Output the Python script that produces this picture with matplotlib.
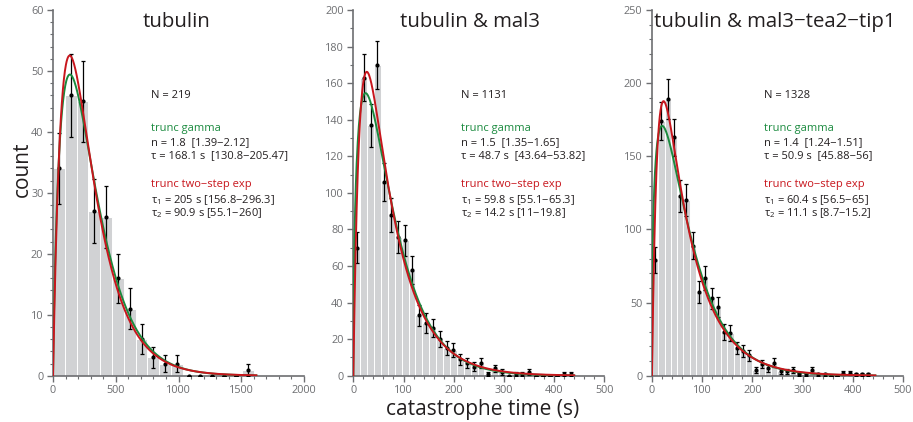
import math
import numpy as np
import matplotlib
matplotlib.use("Agg")
import matplotlib.pyplot as plt
from matplotlib.ticker import MultipleLocator

plt.rcParams['font.family'] = ['Open Sans', 'DejaVu Sans']
plt.rcParams['mathtext.fontset'] = 'custom'
plt.rcParams['mathtext.rm'] = 'Open Sans'
plt.rcParams['mathtext.it'] = 'Open Sans:italic'

# ---- data ----
titles = ["tubulin", "tubulin & mal3", "tubulin & mal3\u2212tea2\u2212tip1"]
n_events = [219, 1131, 1328]
bin_width = [94, 13.75, 12.5]

counts_tub = [34, 46, 45, 27, 26, 16, 11, 6, 3, 2, 2, 0, 0, 0, 0, 0, 1]
counts_mal3 = [70, 163, 137, 170, 106, 88, 76, 74, 58, 33, 29, 26, 20, 15, 14, 9,
               7, 5, 7, 1, 4, 2, 0, 1, 1, 2, 0, 0, 0, 0, 1, 1]
counts_tip1 = [79, 174, 189, 163, 123, 120, 89, 57, 67, 53, 47, 30, 29, 19, 17, 14,
               4, 8, 5, 9, 3, 3, 4, 1, 1, 4, 1, 1, 0, 0, 2, 2, 1, 1, 1]

# fit parameters printed in each panel
gamma_n = [1.8, 1.5, 1.4]
gamma_n_ci = ["1.39\u22122.12", "1.35\u22121.65", "1.24\u22121.51"]
gamma_tau = [168.1, 48.7, 50.9]
gamma_tau_ci = ["130.8\u2212205.47", "43.64\u221253.82", "45.88\u221256"]
exp_tau1 = [205, 59.8, 60.4]
exp_tau1_ci = ["156.8\u2212296.3", "55.1\u221265.3", "56.5\u221265"]
exp_tau2 = [90.9, 14.2, 11.1]
exp_tau2_ci = ["55.1\u2212260", "11\u221219.8", "8.7\u221215.2"]
fit_tmax = [1620, 440, 445]

x_max = [2000, 500, 500]
x_major = [500, 100, 100]
x_minor = [100, 20, 20]
y_max = [60, 200, 250]
y_major = [10, 20, 50]
y_minor = [2, 10, 10]

all_counts = [counts_tub, counts_mal3, counts_tip1]

# layout (figure fractions)
ax_left = [0.0581, 0.387, 0.7141]
ax_w = 0.2749
ax_b = 0.1097
ax_h = 0.8666
title_x = [0.49, 0.464, 0.491]
text_x = [0.389, 0.429, 0.445]

green = '#1a8a3e'
red = '#c8161d'
bar_gray = '#d1d2d4'
axis_gray = '#6d6e71'
txt = '#231f20'

fig = plt.figure(figsize=(9.13, 4.22), dpi=100)

for i in range(3):
    ax = fig.add_axes([ax_left[i], ax_b, ax_w, ax_h])
    counts = np.array(all_counts[i], dtype=float)
    bw = bin_width[i]
    centers = bw / 2 + bw * np.arange(len(counts))

    ax.bar(centers, counts, width=bw, color=bar_gray, edgecolor='white', linewidth=0.7, zorder=1)
    ax.errorbar(centers, counts, yerr=np.sqrt(counts), fmt='o', ms=2, color='black',
                ecolor='black', elinewidth=0.9, capsize=1.6, capthick=0.9, zorder=4)

    # fitted curves from the parameters shown in the panel, scaled to counts
    t = np.linspace(0, fit_tmax[i], 600)
    scale = n_events[i] * bw
    a = gamma_n[i]
    s = gamma_tau[i]
    g_pdf = t ** (a - 1) * np.exp(-t / s) / (math.gamma(a) * s ** a)
    t1 = exp_tau1[i]
    t2 = exp_tau2[i]
    e_pdf = (np.exp(-t / t1) - np.exp(-t / t2)) / (t1 - t2)
    ax.plot(t, g_pdf * scale, color=green, lw=1.4, zorder=5)
    ax.plot(t, e_pdf * scale, color=red, lw=1.4, zorder=6)

    ax.set_xlim(0, x_max[i])
    ax.set_ylim(0, y_max[i])
    ax.xaxis.set_major_locator(MultipleLocator(x_major[i]))
    ax.xaxis.set_minor_locator(MultipleLocator(x_minor[i]))
    ax.yaxis.set_major_locator(MultipleLocator(y_major[i]))
    ax.yaxis.set_minor_locator(MultipleLocator(y_minor[i]))
    for side in ['top', 'right']:
        ax.spines[side].set_visible(False)
    for side in ['left', 'bottom']:
        ax.spines[side].set_color(axis_gray)
        ax.spines[side].set_linewidth(1.2)
    ax.tick_params(which='major', direction='out', length=4, width=1, color=axis_gray,
                   labelcolor=axis_gray, labelsize=7.8, pad=3)
    ax.tick_params(which='minor', direction='out', length=2, width=0.8, color=axis_gray)
    ax.patch.set_alpha(0)

    ax.text(title_x[i], 0.967, titles[i], transform=ax.transAxes, ha='center', va='center',
            fontsize=14.7, color=txt)

    lines = [
        (0.7675, "N = %d" % n_events[i], txt),
        (0.675, "trunc gamma", green),
        (0.637, "n = %s  [%s]" % (gamma_n[i], gamma_n_ci[i]), txt),
        (0.601, "\u03c4 = %s s  [%s]" % (gamma_tau[i], gamma_tau_ci[i]), txt),
        (0.524, "trunc two\u2212step exp", red),
        (0.480, "\u03c4$_1$ = %s s [%s]" % (exp_tau1[i], exp_tau1_ci[i]), txt),
        (0.444, "\u03c4$_2$ = %s s [%s]" % (exp_tau2[i], exp_tau2_ci[i]), txt),
    ]
    for y, s_txt, c in lines:
        ax.text(text_x[i], y, s_txt, transform=ax.transAxes, ha='left', va='center',
                fontsize=8, color=c)

fig.text(0.024, 0.6, "count", rotation=90, ha='center', va='center', fontsize=15, color=txt)
fig.text(0.529, 0.03, "catastrophe time (s)", ha='center', va='center', fontsize=15, color=txt)

fig.savefig("out.png", dpi=100)
